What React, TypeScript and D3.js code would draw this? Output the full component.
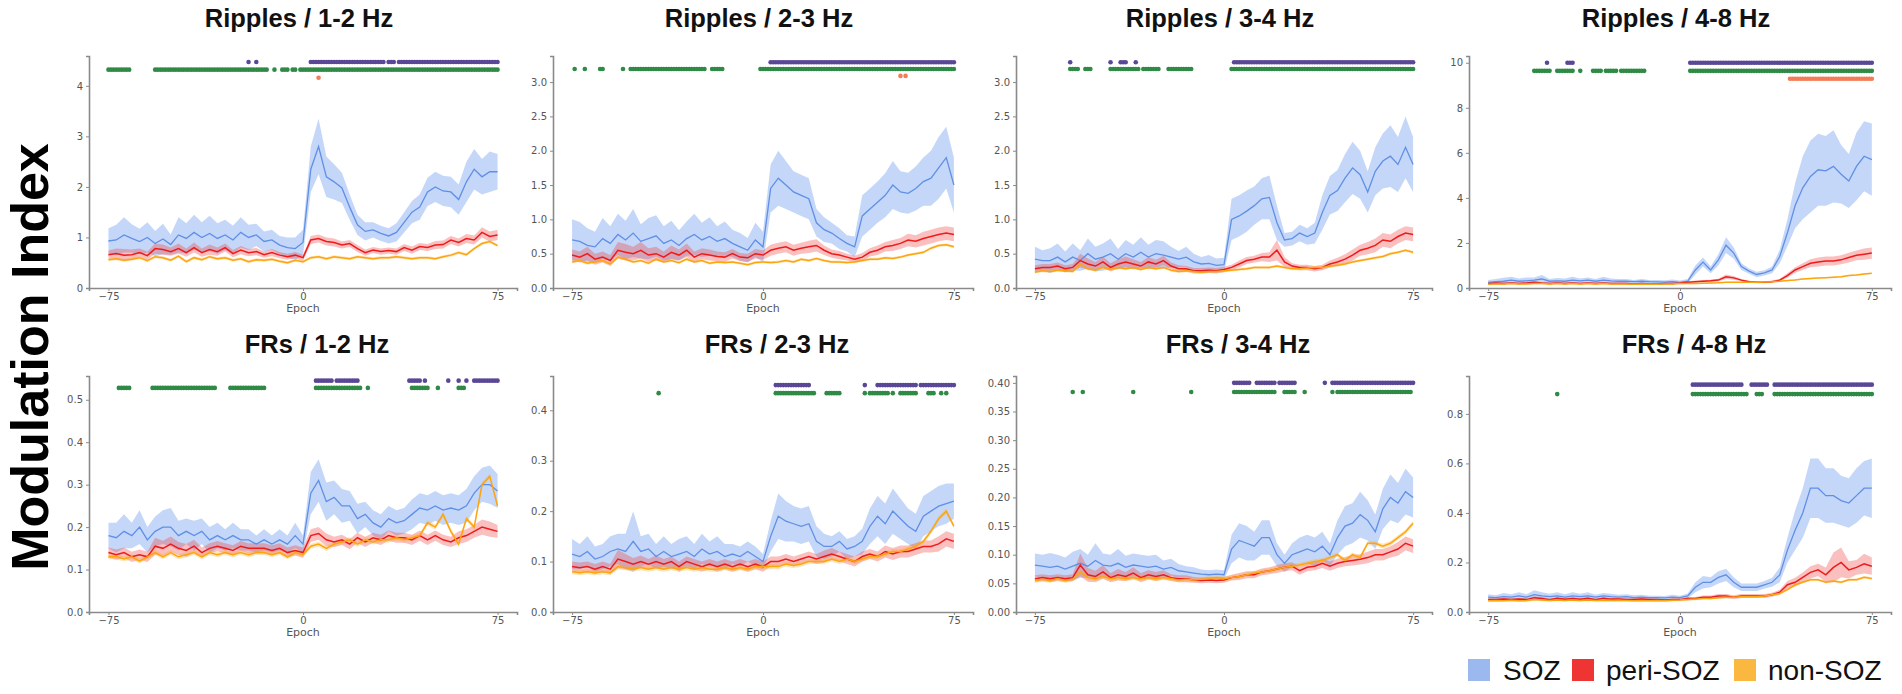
import React, { useRef, useEffect } from 'react';
import * as d3 from 'd3';

// epochs sampled every 3rd step from -75 to 75
const epochs = d3.range(-75, 76, 3);
const epochTicks = [-75, 0, 75];
const groupNames = ['SOZ', 'peri-SOZ', 'non-SOZ'];

// Ripples / 1-2 Hz
const r12Soz = [0.93,0.95,1.05,0.98,0.92,1.0,0.88,0.97,0.86,1.05,0.98,1.1,1.0,1.08,0.98,1.05,0.95,1.1,1.0,1.05,0.92,0.95,0.85,0.8,0.78,0.9,2.35,2.8,2.2,2.1,1.98,1.6,1.25,1.12,1.15,1.08,1.03,1.1,1.3,1.5,1.6,1.9,2.0,1.92,1.9,1.75,2.1,2.35,2.2,2.3,2.3];
const r12SozSem = [0.25,0.3,0.35,0.28,0.25,0.3,0.25,0.3,0.2,0.35,0.3,0.35,0.3,0.35,0.3,0.3,0.28,0.3,0.25,0.22,0.2,0.2,0.18,0.2,0.22,0.25,0.45,0.55,0.4,0.35,0.3,0.25,0.2,0.18,0.15,0.15,0.15,0.18,0.2,0.22,0.25,0.28,0.3,0.3,0.3,0.3,0.4,0.4,0.35,0.4,0.35];
const r12Peri = [0.66,0.68,0.65,0.66,0.7,0.64,0.78,0.76,0.72,0.78,0.7,0.8,0.7,0.76,0.72,0.8,0.68,0.75,0.7,0.72,0.66,0.7,0.65,0.62,0.65,0.6,0.95,0.98,0.92,0.9,0.85,0.88,0.78,0.7,0.75,0.72,0.74,0.72,0.8,0.75,0.82,0.8,0.85,0.86,0.95,0.9,0.98,0.95,1.1,1.02,1.05];
const r12PeriSem = [0.08,0.1,0.12,0.1,0.08,0.08,0.1,0.1,0.08,0.1,0.08,0.1,0.08,0.1,0.08,0.08,0.07,0.08,0.07,0.07,0.06,0.07,0.06,0.06,0.06,0.06,0.08,0.08,0.08,0.08,0.07,0.07,0.07,0.06,0.06,0.06,0.06,0.06,0.07,0.07,0.07,0.07,0.08,0.08,0.08,0.08,0.09,0.09,0.1,0.1,0.1];
const r12Non = [0.56,0.58,0.55,0.57,0.6,0.54,0.62,0.6,0.55,0.63,0.52,0.6,0.56,0.62,0.58,0.6,0.55,0.58,0.52,0.56,0.55,0.57,0.53,0.5,0.55,0.52,0.6,0.62,0.58,0.62,0.6,0.58,0.62,0.6,0.58,0.6,0.6,0.62,0.6,0.58,0.6,0.6,0.58,0.62,0.65,0.7,0.66,0.78,0.88,0.92,0.84];

// Ripples / 2-3 Hz
const r23Soz = [0.7,0.68,0.62,0.6,0.72,0.65,0.78,0.7,0.8,0.68,0.72,0.76,0.65,0.7,0.62,0.72,0.78,0.7,0.75,0.68,0.72,0.65,0.6,0.55,0.7,0.6,1.45,1.6,1.5,1.4,1.35,1.3,0.95,0.85,0.8,0.72,0.65,0.6,1.05,1.15,1.25,1.35,1.5,1.4,1.38,1.45,1.55,1.6,1.75,1.9,1.5];
const r23SozSem = [0.3,0.28,0.25,0.22,0.3,0.25,0.3,0.28,0.35,0.25,0.3,0.3,0.25,0.28,0.22,0.25,0.3,0.25,0.28,0.22,0.25,0.2,0.2,0.18,0.25,0.22,0.35,0.4,0.35,0.3,0.3,0.3,0.2,0.18,0.15,0.15,0.12,0.15,0.3,0.3,0.3,0.32,0.35,0.3,0.3,0.32,0.35,0.4,0.45,0.45,0.4];
const r23Peri = [0.48,0.45,0.5,0.42,0.45,0.4,0.55,0.52,0.5,0.55,0.48,0.5,0.45,0.52,0.48,0.55,0.45,0.5,0.48,0.46,0.45,0.5,0.45,0.44,0.5,0.48,0.55,0.58,0.6,0.55,0.58,0.6,0.62,0.55,0.5,0.48,0.45,0.42,0.45,0.52,0.55,0.6,0.62,0.65,0.7,0.68,0.72,0.75,0.78,0.8,0.78];
const r23PeriSem = [0.08,0.08,0.1,0.08,0.08,0.08,0.12,0.12,0.1,0.12,0.1,0.1,0.08,0.1,0.08,0.1,0.08,0.08,0.08,0.07,0.07,0.07,0.06,0.06,0.07,0.07,0.08,0.08,0.08,0.08,0.08,0.09,0.09,0.07,0.06,0.06,0.05,0.05,0.06,0.06,0.07,0.07,0.08,0.08,0.09,0.09,0.1,0.1,0.1,0.1,0.1];
const r23Non = [0.38,0.4,0.36,0.38,0.4,0.35,0.45,0.42,0.38,0.4,0.36,0.42,0.38,0.4,0.37,0.42,0.38,0.4,0.36,0.38,0.37,0.38,0.36,0.34,0.37,0.38,0.37,0.38,0.4,0.38,0.42,0.4,0.43,0.4,0.38,0.38,0.37,0.38,0.4,0.42,0.42,0.44,0.43,0.45,0.48,0.5,0.52,0.58,0.62,0.63,0.6];

// Ripples / 3-4 Hz
const r34Soz = [0.42,0.4,0.4,0.45,0.38,0.45,0.4,0.5,0.42,0.45,0.5,0.42,0.5,0.45,0.52,0.45,0.5,0.48,0.45,0.42,0.45,0.38,0.35,0.36,0.33,0.34,1.0,1.05,1.12,1.2,1.3,1.32,0.95,0.7,0.72,0.8,0.75,0.8,1.1,1.35,1.42,1.6,1.75,1.65,1.4,1.7,1.85,1.92,1.8,2.05,1.8];
const r34SozSem = [0.18,0.15,0.18,0.2,0.15,0.2,0.15,0.22,0.18,0.2,0.22,0.15,0.2,0.18,0.22,0.18,0.2,0.2,0.15,0.12,0.15,0.12,0.1,0.12,0.1,0.1,0.3,0.3,0.3,0.28,0.3,0.32,0.25,0.1,0.1,0.12,0.12,0.15,0.25,0.28,0.3,0.35,0.38,0.35,0.3,0.35,0.4,0.45,0.4,0.45,0.4];
const r34Peri = [0.28,0.3,0.3,0.32,0.28,0.3,0.4,0.35,0.32,0.38,0.3,0.35,0.38,0.35,0.32,0.38,0.35,0.4,0.32,0.28,0.28,0.25,0.25,0.26,0.25,0.27,0.3,0.35,0.4,0.42,0.45,0.45,0.55,0.38,0.32,0.3,0.3,0.28,0.3,0.35,0.38,0.42,0.48,0.55,0.58,0.62,0.7,0.68,0.75,0.8,0.78];
const r34PeriSem = [0.05,0.05,0.05,0.05,0.05,0.05,0.1,0.08,0.06,0.08,0.06,0.07,0.08,0.07,0.06,0.07,0.06,0.07,0.05,0.05,0.04,0.04,0.04,0.04,0.04,0.04,0.04,0.05,0.05,0.05,0.06,0.07,0.15,0.07,0.04,0.04,0.04,0.04,0.04,0.05,0.06,0.07,0.08,0.08,0.09,0.1,0.1,0.1,0.1,0.1,0.1];
const r34Non = [0.23,0.25,0.24,0.26,0.25,0.24,0.35,0.28,0.26,0.3,0.27,0.3,0.28,0.3,0.27,0.3,0.28,0.3,0.26,0.24,0.25,0.24,0.23,0.24,0.24,0.25,0.26,0.27,0.28,0.3,0.3,0.3,0.32,0.3,0.28,0.28,0.29,0.3,0.3,0.32,0.33,0.35,0.38,0.4,0.42,0.44,0.46,0.5,0.52,0.55,0.52];

// Ripples / 4-8 Hz
const r48Soz = [0.25,0.28,0.3,0.35,0.3,0.32,0.35,0.4,0.3,0.32,0.3,0.35,0.32,0.35,0.3,0.35,0.32,0.3,0.3,0.28,0.3,0.28,0.27,0.26,0.28,0.25,0.3,0.8,1.15,0.8,1.25,1.9,1.55,0.95,0.75,0.6,0.67,0.8,1.4,2.45,3.65,4.45,4.95,5.25,5.2,5.4,5.05,4.75,5.4,5.85,5.7];
const r48SozSem = [0.1,0.12,0.15,0.15,0.12,0.15,0.12,0.18,0.1,0.12,0.12,0.15,0.1,0.12,0.1,0.15,0.1,0.1,0.1,0.08,0.1,0.08,0.08,0.08,0.1,0.08,0.1,0.2,0.2,0.15,0.25,0.35,0.25,0.15,0.12,0.12,0.12,0.15,0.3,0.6,1.0,1.4,1.6,1.6,1.55,1.6,1.3,1.2,1.5,1.55,1.6];
const r48Peri = [0.2,0.22,0.2,0.22,0.2,0.22,0.25,0.22,0.2,0.22,0.2,0.22,0.2,0.22,0.2,0.22,0.2,0.2,0.2,0.18,0.2,0.18,0.18,0.2,0.2,0.22,0.25,0.28,0.3,0.32,0.35,0.5,0.45,0.35,0.28,0.25,0.25,0.28,0.35,0.55,0.8,0.95,1.1,1.15,1.2,1.2,1.25,1.35,1.45,1.5,1.55];
const r48PeriSem = [0.04,0.04,0.05,0.04,0.04,0.04,0.05,0.04,0.04,0.04,0.04,0.04,0.04,0.04,0.04,0.04,0.04,0.04,0.04,0.03,0.03,0.03,0.03,0.03,0.03,0.03,0.04,0.05,0.05,0.05,0.06,0.1,0.08,0.05,0.04,0.04,0.04,0.05,0.06,0.1,0.12,0.15,0.18,0.2,0.2,0.2,0.2,0.22,0.22,0.25,0.25];
const r48Non = [0.17,0.18,0.18,0.2,0.18,0.18,0.2,0.2,0.18,0.2,0.18,0.2,0.18,0.2,0.18,0.2,0.18,0.18,0.18,0.17,0.18,0.17,0.17,0.18,0.18,0.2,0.2,0.2,0.21,0.22,0.23,0.25,0.26,0.25,0.25,0.26,0.27,0.28,0.3,0.33,0.36,0.4,0.42,0.44,0.46,0.48,0.5,0.55,0.58,0.62,0.65];

// FRs / 1-2 Hz
const f12Soz = [0.18,0.175,0.19,0.18,0.2,0.17,0.19,0.2,0.2,0.18,0.19,0.18,0.19,0.17,0.18,0.17,0.18,0.17,0.17,0.16,0.17,0.16,0.17,0.16,0.18,0.16,0.28,0.31,0.26,0.27,0.25,0.25,0.22,0.23,0.21,0.2,0.22,0.21,0.215,0.23,0.245,0.24,0.25,0.24,0.245,0.24,0.25,0.28,0.3,0.3,0.285];
const f12SozSem = [0.03,0.035,0.04,0.03,0.04,0.03,0.035,0.04,0.045,0.035,0.03,0.035,0.03,0.03,0.03,0.025,0.03,0.025,0.025,0.02,0.025,0.02,0.025,0.02,0.03,0.02,0.05,0.05,0.045,0.04,0.04,0.035,0.035,0.03,0.03,0.03,0.03,0.03,0.03,0.035,0.035,0.035,0.035,0.035,0.035,0.035,0.04,0.04,0.04,0.045,0.04];
const f12Peri = [0.14,0.135,0.14,0.13,0.135,0.13,0.155,0.15,0.16,0.15,0.145,0.155,0.14,0.15,0.155,0.15,0.145,0.155,0.15,0.15,0.15,0.145,0.15,0.14,0.145,0.14,0.18,0.185,0.17,0.165,0.17,0.16,0.175,0.165,0.175,0.17,0.18,0.175,0.175,0.17,0.18,0.17,0.18,0.17,0.165,0.175,0.18,0.19,0.2,0.195,0.19];
const f12PeriSem = [0.012,0.012,0.012,0.012,0.012,0.012,0.02,0.018,0.018,0.015,0.015,0.015,0.012,0.012,0.012,0.012,0.012,0.012,0.012,0.012,0.012,0.012,0.012,0.012,0.012,0.012,0.015,0.015,0.015,0.012,0.012,0.012,0.012,0.012,0.012,0.012,0.012,0.012,0.012,0.012,0.012,0.012,0.012,0.012,0.012,0.015,0.015,0.015,0.018,0.018,0.015];
const f12Non = [0.13,0.13,0.125,0.13,0.12,0.13,0.14,0.13,0.14,0.13,0.135,0.14,0.13,0.14,0.135,0.14,0.135,0.14,0.135,0.14,0.14,0.135,0.14,0.13,0.14,0.135,0.155,0.16,0.15,0.16,0.165,0.17,0.16,0.17,0.165,0.17,0.17,0.175,0.17,0.175,0.18,0.21,0.2,0.23,0.19,0.16,0.22,0.2,0.3,0.32,0.25];

// FRs / 2-3 Hz
const f23Soz = [0.115,0.11,0.12,0.105,0.11,0.12,0.125,0.12,0.14,0.12,0.125,0.11,0.12,0.11,0.115,0.12,0.11,0.125,0.115,0.12,0.11,0.115,0.11,0.12,0.11,0.1,0.15,0.19,0.18,0.175,0.17,0.175,0.14,0.13,0.13,0.14,0.125,0.13,0.14,0.17,0.19,0.175,0.2,0.185,0.17,0.16,0.19,0.2,0.21,0.215,0.22];
const f23SozSem = [0.03,0.025,0.03,0.025,0.025,0.03,0.03,0.035,0.06,0.03,0.03,0.025,0.03,0.025,0.03,0.03,0.025,0.03,0.025,0.03,0.025,0.02,0.02,0.02,0.02,0.015,0.03,0.045,0.04,0.035,0.035,0.035,0.03,0.025,0.02,0.02,0.02,0.02,0.025,0.035,0.04,0.04,0.045,0.04,0.035,0.035,0.04,0.04,0.04,0.04,0.035];
const f23Peri = [0.09,0.088,0.09,0.085,0.09,0.085,0.105,0.1,0.095,0.1,0.095,0.1,0.095,0.1,0.09,0.1,0.095,0.09,0.095,0.09,0.095,0.09,0.095,0.09,0.095,0.09,0.1,0.1,0.105,0.1,0.105,0.11,0.105,0.11,0.115,0.11,0.105,0.1,0.11,0.115,0.11,0.12,0.115,0.12,0.12,0.125,0.13,0.13,0.135,0.145,0.14];
const f23PeriSem = [0.01,0.01,0.01,0.01,0.01,0.01,0.018,0.015,0.012,0.012,0.01,0.012,0.01,0.01,0.01,0.01,0.01,0.01,0.01,0.01,0.01,0.01,0.01,0.01,0.01,0.01,0.01,0.01,0.01,0.01,0.01,0.01,0.01,0.012,0.012,0.01,0.01,0.01,0.01,0.01,0.01,0.012,0.012,0.012,0.012,0.012,0.012,0.012,0.015,0.015,0.015];
const f23Non = [0.08,0.078,0.08,0.078,0.08,0.078,0.09,0.088,0.085,0.088,0.085,0.088,0.085,0.088,0.085,0.088,0.085,0.088,0.085,0.085,0.088,0.085,0.088,0.085,0.09,0.09,0.09,0.09,0.095,0.092,0.095,0.1,0.1,0.1,0.105,0.1,0.105,0.1,0.105,0.11,0.11,0.115,0.12,0.12,0.125,0.13,0.14,0.16,0.185,0.2,0.17];

// FRs / 3-4 Hz
const f34Soz = [0.082,0.08,0.078,0.08,0.075,0.08,0.085,0.08,0.09,0.082,0.08,0.085,0.078,0.082,0.08,0.078,0.08,0.075,0.078,0.072,0.07,0.068,0.066,0.065,0.066,0.065,0.11,0.125,0.12,0.115,0.13,0.13,0.1,0.085,0.1,0.105,0.11,0.105,0.115,0.1,0.13,0.15,0.155,0.17,0.16,0.14,0.18,0.2,0.19,0.21,0.2];
const f34SozSem = [0.02,0.02,0.025,0.02,0.02,0.025,0.025,0.02,0.03,0.02,0.02,0.025,0.02,0.02,0.02,0.02,0.02,0.015,0.015,0.012,0.01,0.01,0.008,0.008,0.008,0.008,0.025,0.03,0.03,0.025,0.03,0.03,0.02,0.015,0.02,0.025,0.025,0.025,0.025,0.02,0.03,0.035,0.035,0.04,0.035,0.03,0.035,0.04,0.035,0.04,0.035];
const f34Peri = [0.058,0.06,0.058,0.06,0.058,0.06,0.082,0.065,0.062,0.07,0.06,0.065,0.062,0.068,0.06,0.065,0.062,0.065,0.06,0.058,0.058,0.056,0.055,0.056,0.055,0.056,0.06,0.062,0.065,0.065,0.07,0.072,0.075,0.078,0.08,0.072,0.078,0.08,0.085,0.08,0.085,0.088,0.09,0.092,0.095,0.1,0.1,0.105,0.11,0.12,0.115];
const f34PeriSem = [0.006,0.006,0.006,0.006,0.006,0.006,0.02,0.012,0.01,0.012,0.008,0.01,0.008,0.01,0.008,0.008,0.008,0.008,0.006,0.006,0.006,0.005,0.005,0.005,0.005,0.005,0.005,0.006,0.006,0.006,0.006,0.006,0.007,0.007,0.007,0.007,0.007,0.007,0.008,0.008,0.008,0.008,0.009,0.009,0.01,0.01,0.01,0.01,0.012,0.012,0.012];
const f34Non = [0.055,0.057,0.055,0.058,0.055,0.057,0.07,0.06,0.058,0.062,0.058,0.06,0.058,0.06,0.058,0.06,0.058,0.06,0.058,0.056,0.057,0.056,0.057,0.058,0.06,0.058,0.06,0.062,0.065,0.068,0.07,0.072,0.075,0.078,0.08,0.082,0.085,0.088,0.09,0.095,0.1,0.09,0.1,0.095,0.12,0.12,0.115,0.12,0.13,0.14,0.155];

// FRs / 4-8 Hz
const f48Soz = [0.06,0.058,0.062,0.06,0.065,0.06,0.07,0.065,0.062,0.065,0.06,0.065,0.062,0.065,0.06,0.065,0.062,0.06,0.062,0.058,0.06,0.058,0.058,0.057,0.06,0.058,0.065,0.1,0.12,0.12,0.14,0.15,0.12,0.1,0.1,0.1,0.11,0.12,0.15,0.25,0.33,0.4,0.5,0.5,0.47,0.47,0.45,0.44,0.47,0.5,0.5];
const f48SozSem = [0.012,0.01,0.015,0.012,0.015,0.012,0.018,0.015,0.012,0.015,0.012,0.015,0.012,0.015,0.01,0.012,0.012,0.01,0.01,0.01,0.01,0.008,0.008,0.008,0.01,0.008,0.01,0.02,0.025,0.02,0.025,0.025,0.02,0.015,0.015,0.015,0.015,0.018,0.03,0.05,0.08,0.1,0.12,0.12,0.11,0.11,0.1,0.1,0.11,0.11,0.12];
const f48Peri = [0.05,0.05,0.052,0.05,0.052,0.05,0.058,0.055,0.05,0.055,0.052,0.055,0.052,0.055,0.05,0.055,0.052,0.052,0.05,0.05,0.052,0.05,0.05,0.048,0.05,0.05,0.055,0.055,0.06,0.06,0.065,0.065,0.06,0.065,0.065,0.065,0.065,0.07,0.08,0.11,0.12,0.14,0.16,0.17,0.15,0.18,0.2,0.17,0.18,0.195,0.185];
const f48PeriSem = [0.005,0.005,0.005,0.005,0.005,0.005,0.006,0.006,0.005,0.005,0.005,0.005,0.005,0.005,0.005,0.005,0.005,0.005,0.005,0.005,0.005,0.005,0.005,0.005,0.005,0.005,0.006,0.006,0.007,0.007,0.008,0.008,0.008,0.008,0.008,0.008,0.008,0.008,0.01,0.015,0.018,0.02,0.025,0.025,0.03,0.06,0.06,0.035,0.03,0.04,0.035];
const f48Non = [0.045,0.046,0.045,0.047,0.045,0.046,0.05,0.048,0.046,0.048,0.046,0.048,0.046,0.048,0.046,0.047,0.046,0.047,0.046,0.045,0.046,0.045,0.046,0.045,0.047,0.048,0.05,0.052,0.055,0.055,0.058,0.06,0.06,0.062,0.062,0.062,0.065,0.07,0.075,0.09,0.11,0.12,0.13,0.13,0.12,0.125,0.12,0.13,0.13,0.14,0.135];

// significant epochs, as [first, last] runs
const r12Purple = [[-21, -21], [-18, -18], [3, 31], [33, 35], [37, 75]];
const r12Green = [[-75, -67], [-57, -14], [-11, -11], [-8, -6], [-4, -3], [-1, 75]];
const r12Orange = [[6, 6]];
const r23Purple = [[3, 75]];
const r23Green = [[-74, -74], [-70, -70], [-64, -63], [-55, -55], [-52, -23], [-20, -16], [-1, 75]];
const r23Orange = [[54, 54], [56, 56]];
const r34Purple = [[-61, -61], [-45, -45], [-41, -39], [-35, -35], [4, 75]];
const r34Green = [[-61, -58], [-55, -53], [-45, -34], [-32, -26], [-22, -13], [3, 75]];
const r48Purple = [[-52, -52], [-44, -42], [4, 75]];
const r48Green = [[-57, -51], [-48, -42], [-39, -39], [-34, -31], [-29, -25], [-23, -14], [4, 75]];
const r48Orange = [[43, 75]];
const f12Purple = [[5, 11], [13, 21], [41, 45], [47, 47], [56, 56], [60, 60], [63, 63], [66, 75]];
const f12Green = [[-71, -67], [-58, -34], [-28, -15], [5, 22], [25, 25], [42, 48], [52, 52], [60, 62]];
const f23Purple = [[5, 18], [40, 40], [45, 60], [62, 75]];
const f23Green = [[-41, -41], [5, 20], [25, 30], [40, 40], [42, 49], [51, 51], [54, 60], [65, 67], [70, 70], [72, 72]];
const f34Purple = [[4, 10], [13, 20], [22, 28], [40, 40], [43, 75]];
const f34Green = [[-60, -60], [-56, -56], [-36, -36], [-13, -13], [4, 20], [24, 28], [32, 32], [43, 43], [45, 74]];
const f48Purple = [[5, 24], [28, 34], [37, 75]];
const f48Green = [[-48, -48], [5, 26], [30, 32], [37, 75]];

// y-axis ticks per panel
const r12Ticks = [0, 1, 2, 3, 4];
const r23Ticks = [0, 0.5, 1, 1.5, 2, 2.5, 3];
const r48Ticks = [0, 2, 4, 6, 8, 10];
const f12Ticks = [0, 0.1, 0.2, 0.3, 0.4, 0.5];
const f23Ticks = [0, 0.1, 0.2, 0.3, 0.4];
const f34Ticks = [0, 0.05, 0.1, 0.15, 0.2, 0.25, 0.3, 0.35, 0.4];
const f48Ticks = [0, 0.2, 0.4, 0.6, 0.8];

const panels = [
  { title: 'Ripples / 1-2 Hz', yMax: 4.59, ticks: r12Ticks, fmt: 'd', series: [[r12Soz, r12SozSem], [r12Peri, r12PeriSem], [r12Non, 0.03]], sig: [r12Purple, r12Green, r12Orange], sigY: [4.47, 4.32, 4.16] },
  { title: 'Ripples / 2-3 Hz', yMax: 3.38, ticks: r23Ticks, fmt: '.1f', series: [[r23Soz, r23SozSem], [r23Peri, r23PeriSem], [r23Non, 0.02]], sig: [r23Purple, r23Green, r23Orange], sigY: [3.29, 3.19, 3.09] },
  { title: 'Ripples / 3-4 Hz', yMax: 3.38, ticks: r23Ticks, fmt: '.1f', series: [[r34Soz, r34SozSem], [r34Peri, r34PeriSem], [r34Non, 0.02]], sig: [r34Purple, r34Green, []], sigY: [3.29, 3.19, 3.09] },
  { title: 'Ripples / 4-8 Hz', yMax: 10.3, ticks: r48Ticks, fmt: 'd', series: [[r48Soz, r48SozSem], [r48Peri, r48PeriSem], [r48Non, 0.03]], sig: [r48Purple, r48Green, r48Orange], sigY: [10.0, 9.64, 9.29] },
  { title: 'FRs / 1-2 Hz', yMax: 0.556, ticks: f12Ticks, fmt: '.1f', series: [[f12Soz, f12SozSem], [f12Peri, f12PeriSem], [f12Non, 0.006]], sig: [f12Purple, f12Green, []], sigY: [0.545, 0.528, 0.51] },
  { title: 'FRs / 2-3 Hz', yMax: 0.468, ticks: f23Ticks, fmt: '.1f', series: [[f23Soz, f23SozSem], [f23Peri, f23PeriSem], [f23Non, 0.005]], sig: [f23Purple, f23Green, []], sigY: [0.45, 0.434, 0.42] },
  { title: 'FRs / 3-4 Hz', yMax: 0.412, ticks: f34Ticks, fmt: '.2f', series: [[f34Soz, f34SozSem], [f34Peri, f34PeriSem], [f34Non, 0.004]], sig: [f34Purple, f34Green, []], sigY: [0.4, 0.384, 0.37] },
  { title: 'FRs / 4-8 Hz', yMax: 0.953, ticks: f48Ticks, fmt: '.1f', series: [[f48Soz, f48SozSem], [f48Peri, f48PeriSem], [f48Non, 0.005]], sig: [f48Purple, f48Green, []], sigY: [0.918, 0.88, 0.85] },
];

const lineColors = ['#5f8fe6', '#ee1b1b', '#fda50f'];
const bandColors = ['rgba(100,149,237,0.38)', 'rgba(240,60,60,0.33)', 'rgba(255,170,30,0.3)'];
const legendColors = ['#9bb9ef', '#ef3434', '#fbb840'];
const sigColors = ['#5a4796', '#2f8a45', '#f47c56'];

const App: React.FC = () => {
  const svgRef = useRef<SVGSVGElement | null>(null);

  useEffect(() => {
    const svg = d3.select(svgRef.current);
    svg.selectAll('*').remove();

    const colLeft = [89, 553, 1016, 1469];
    const colWidth = [428, 420, 416, 422];
    const rowBase = [288, 612];
    const rowTop = [56, 376];

    panels.forEach((p, i) => {
      const col = i % 4;
      const row = Math.floor(i / 4);
      const left = colLeft[col];
      const w = colWidth[col];

      const x = d3.scaleLinear().domain([-82.5, 82.5]).range([left, left + w]);
      const y = d3.scaleLinear().domain([0, p.yMax]).range([rowBase[row], rowTop[row]]);
      const g = svg.append('g');

      // shaded bands first, then the mean lines on top
      p.series.forEach(([mean, sem], k) => {
        const pts = mean.map((v, j) => ({ e: epochs[j], v, s: typeof sem === 'number' ? sem : sem[j] }));
        const area = d3.area<any>()
          .x(d => x(d.e))
          .y0(d => y(Math.max(0, d.v - d.s)))
          .y1(d => y(d.v + d.s));
        g.append('path').datum(pts).attr('d', area).attr('fill', bandColors[k]);
      });
      p.series.forEach(([mean], k) => {
        const line = d3.line<number>()
          .x((_, j) => x(epochs[j]))
          .y(d => y(d));
        g.append('path').datum(mean).attr('d', line)
          .attr('fill', 'none')
          .attr('stroke', lineColors[k])
          .attr('stroke-width', k === 0 ? 1.3 : 1.5);
      });

      // significance markers
      p.sig.forEach((runs, k) => {
        const pts: number[] = [];
        runs.forEach(([a, b]) => { for (let e = a; e <= b; e++) pts.push(e); });
        g.append('g').selectAll('circle').data(pts).enter().append('circle')
          .attr('cx', d => x(d))
          .attr('cy', y(p.sigY[k]))
          .attr('r', 2.3)
          .attr('fill', sigColors[k]);
      });

      // axes
      const yAxis = g.append('g')
        .attr('transform', `translate(${left},0)`)
        .call(d3.axisLeft(y).tickValues(p.ticks).tickFormat(d3.format(p.fmt) as any).tickSizeOuter(0).tickSize(3).tickPadding(3));
      const xAxis = g.append('g')
        .attr('transform', `translate(0,${rowBase[row]})`)
        .call(d3.axisBottom(x).tickValues(epochTicks).tickFormat(d3.format('d') as any).tickSizeOuter(0).tickSize(3).tickPadding(2));
      [yAxis, xAxis].forEach(a => {
        a.select('.domain').attr('stroke', '#8a8a8a').attr('stroke-width', 1.6);
        a.selectAll('.tick line').attr('stroke', '#8a8a8a');
        a.selectAll('.tick text')
          .attr('fill', '#555')
          .style('font-family', 'DejaVu Sans, sans-serif')
          .style('font-size', '10px');
      });

      g.append('text')
        .attr('x', x(0))
        .attr('y', rowBase[row] + 24)
        .attr('text-anchor', 'middle')
        .style('font-family', 'DejaVu Sans, sans-serif')
        .style('font-size', '11px')
        .attr('fill', '#555')
        .text('Epoch');

      g.append('text')
        .attr('x', left + w / 2 + (row === 0 ? -4 : 14))
        .attr('y', row === 0 ? 27 : 353)
        .attr('text-anchor', 'middle')
        .style('font-family', 'Liberation Sans, Arial, sans-serif')
        .style('font-size', '25.5px')
        .style('font-weight', 'bold')
        .attr('fill', '#111')
        .text(p.title);
    });

    // shared y label
    svg.append('text')
      .attr('transform', 'translate(48,357) rotate(-90)')
      .attr('text-anchor', 'middle')
      .style('font-family', 'Liberation Sans, Arial, sans-serif')
      .style('font-size', '52px')
      .style('font-weight', 'bold')
      .attr('fill', '#000')
      .text('Modulation Index');

    // legend
    const legendRectX = [1468, 1572, 1734];
    const legendTextX = [1503, 1606, 1768];
    groupNames.forEach((name, k) => {
      svg.append('rect')
        .attr('x', legendRectX[k]).attr('y', 659)
        .attr('width', 22).attr('height', 22)
        .attr('fill', legendColors[k]);
      svg.append('text')
        .attr('x', legendTextX[k]).attr('y', 680)
        .style('font-family', 'Liberation Sans, Arial, sans-serif')
        .style('font-size', '28px')
        .attr('fill', '#111')
        .text(name);
    });
  }, []);

  return (
    <svg
      ref={svgRef}
      width={1902}
      height={694}
      style={{ position: 'absolute', left: 0, top: 0, background: '#fff' }}
    />
  );
};

export default App;
